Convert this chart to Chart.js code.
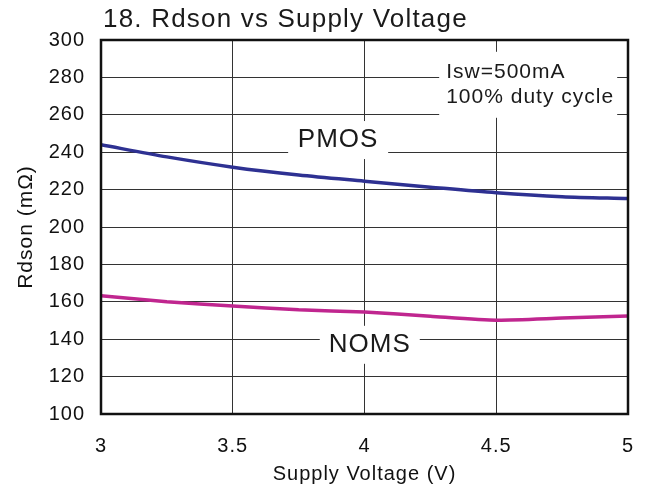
<!DOCTYPE html>
<html>
<head>
<meta charset="utf-8">
<script src="https://cdn.jsdelivr.net/npm/chart.js@4"></script>
<style>
  html, body { margin: 0; padding: 0; background: #fff; }
  #wrap { width: 648px; height: 491px; }
</style>
</head>
<body>
<div id="wrap"><canvas id="rdsonChart" width="648" height="491"></canvas></div>
<script>
// Datos
const voltage = [3, 3.25, 3.5, 3.75, 4, 4.25, 4.5, 4.75, 5];
const pmos = [244, 237.5, 232, 227.8, 224.5, 221.3, 218.3, 216.2, 215.2];
const nmos = [163.3, 160, 157.8, 155.7, 154.5, 152.3, 150.2, 151.3, 152.4];
const seriesLabels = ['PMOS', 'NOMS'];
const noteLines = ['Isw=500mA', '100% duty cycle'];

const FONT = "'Liberation Sans', Arial, sans-serif";
Chart.defaults.font.family = FONT;
Chart.defaults.color = '#111';

function toPoints(xs, ys) {
    return xs.map((x, i) => ({ x: x, y: ys[i] }));
}

// Etiquetas con caja blanca que tapan la rejilla (posicion en coordenadas de datos)
const labelBoxes = [
    { lines: [seriesLabels[0]], x: 3.9, y: 246.5, w: 100, h: 38, size: 26, align: 'center' },
    { lines: [seriesLabels[1]], x: 4.02, y: 137, w: 100, h: 38, size: 26, align: 'center' },
    { lines: noteLines, x: 4.31, y: 283, w: 178, h: 66, size: 21, align: 'left', lineGap: 25 }
];

const annotationPlugin = {
    id: 'annotations',
    beforeUpdate(chart) {
        chart.ctx.letterSpacing = '1px';
    },
    beforeDraw(chart) {
        chart.ctx.letterSpacing = '1px';
    },
    beforeDatasetsDraw(chart) {
        const c = chart.ctx;
        const xs = chart.scales.x, ys = chart.scales.y;
        c.save();
        labelBoxes.forEach(b => {
            const px = xs.getPixelForValue(b.x);
            const py = ys.getPixelForValue(b.y);
            c.fillStyle = '#fff';
            if (b.align === 'center') {
                c.fillRect(px - b.w / 2, py - b.h / 2, b.w, b.h);
            } else {
                c.fillRect(px - 7, py - 20, b.w, b.h);
            }
            c.fillStyle = '#1a1a1a';
            c.font = b.size + 'px ' + FONT;
            c.textBaseline = 'middle';
            c.textAlign = b.align;
            c.letterSpacing = '1px';
            b.lines.forEach((t, i) => {
                c.fillText(t, px, py + i * (b.lineGap || 0));
            });
        });
        c.restore();
    },
    afterDatasetsDraw(chart) {
        const c = chart.ctx;
        const a = chart.chartArea;
        c.save();
        c.strokeStyle = '#111';
        c.lineWidth = 2.5;
        c.strokeRect(a.left, a.top, a.right - a.left, a.bottom - a.top);
        c.restore();
    },
    afterDraw(chart) {
        const c = chart.ctx;
        c.save();
        c.fillStyle = '#1a1a1a';
        c.font = '26px ' + FONT;
        c.textBaseline = 'alphabetic';
        c.textAlign = 'left';
        c.letterSpacing = '1.2px';
        c.fillText('18. Rdson vs Supply Voltage', 103, 27);
        c.restore();
    }
};

const ctx = document.getElementById('rdsonChart').getContext('2d');

const rdsonChart = new Chart(ctx, {
    type: 'line',
    data: {
        datasets: [
            {
                label: seriesLabels[0],
                data: toPoints(voltage, pmos),
                borderColor: '#2e3192',
                borderWidth: 3.5,
                pointRadius: 0,
                tension: 0.3,
                fill: false
            },
            {
                label: seriesLabels[1],
                data: toPoints(voltage, nmos),
                borderColor: '#c0268f',
                borderWidth: 3.5,
                pointRadius: 0,
                tension: 0.2,
                fill: false
            }
        ]
    },
    options: {
        responsive: false,
        animation: false,
        layout: {
            padding: { top: 40, right: 20, left: 0, bottom: 0 }
        },
        plugins: {
            legend: { display: false },
            tooltip: { enabled: false }
        },
        scales: {
            x: {
                type: 'linear',
                min: 3,
                max: 5,
                ticks: {
                    stepSize: 0.5,
                    padding: 20,
                    font: { size: 20 },
                    color: '#111',
                    callback: v => String(v)
                },
                grid: {
                    color: '#333',
                    lineWidth: 1,
                    drawTicks: false
                },
                border: { display: false },
                title: {
                    display: true,
                    text: 'Supply Voltage (V)',
                    font: { size: 20 },
                    color: '#111',
                    padding: { top: 0, bottom: 5 }
                },
                afterFit: s => {
                    s.height = 77;
                    s.paddingLeft = 0;
                    s.paddingRight = 0;
                }
            },
            y: {
                min: 100,
                max: 300,
                ticks: {
                    stepSize: 20,
                    padding: 16,
                    font: { size: 20 },
                    color: '#111'
                },
                grid: {
                    color: '#333',
                    lineWidth: 1,
                    drawTicks: false
                },
                border: { display: false },
                title: {
                    display: true,
                    text: 'Rdson (mΩ)',
                    font: { size: 21 },
                    color: '#111',
                    padding: { top: 14, bottom: 0 }
                },
                afterFit: s => { s.width = 101; }
            }
        }
    },
    plugins: [annotationPlugin]
});
</script>
</body>
</html>
